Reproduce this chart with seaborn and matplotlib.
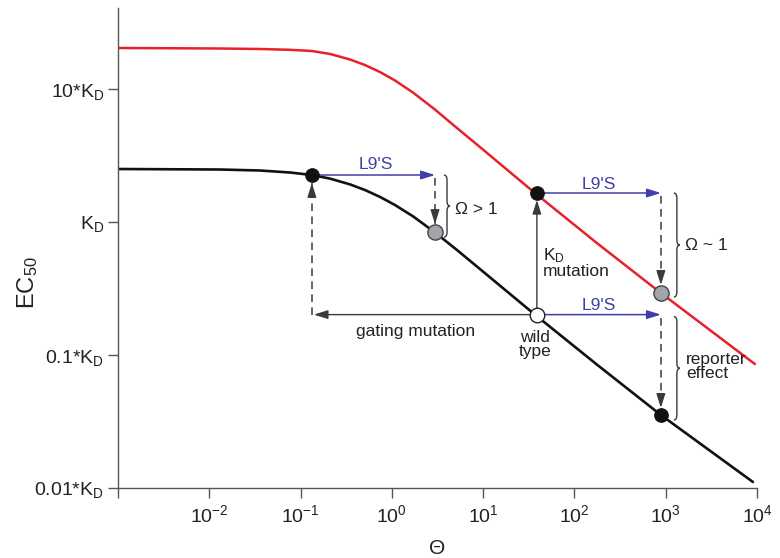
import matplotlib
matplotlib.use("Agg")
import numpy as np
import pandas as pd
import matplotlib.pyplot as plt
import seaborn as sns
from matplotlib.path import Path
from matplotlib.patches import PathPatch

# === DATA ===
theta_black = [0.001, 0.0131, 0.0359, 0.0766, 0.133, 0.210, 0.348, 0.507, 0.741,
               1.082, 1.703, 2.965, 5.164, 9.23, 36.9, 176, 885, 9020]
ec_black = [2.503, 2.481, 2.439, 2.356, 2.256, 2.120, 1.918, 1.740, 1.544,
            1.342, 1.104, 0.835, 0.616, 0.443, 0.2012, 0.0848, 0.0354, 0.0111]

theta_red = [0.001, 0.0131, 0.0359, 0.0766, 0.133, 0.210, 0.348, 0.507, 0.741,
             1.082, 1.703, 2.965, 5.164, 9.23, 36.9, 176, 885, 9480]
ec_red = [20.34, 20.16, 19.99, 19.71, 19.31, 18.34, 16.67, 15.15, 13.42,
          11.59, 9.41, 7.01, 5.09, 3.66, 1.652, 0.695, 0.2925, 0.0855]

# points: A (start), C (KD mutant), F (L9'S on WT) / B, E grey / wild type
dot_black_theta = [0.133, 38.8, 885]
dot_black_ec = [2.256, 1.652, 0.0354]
dot_gray_theta = [2.97, 885]
dot_gray_ec = [0.84, 0.2925]
wt_theta = [38.8]
wt_ec = [0.2012]

y_ticks = [0.01, 0.1, 1, 10]
y_ticklabels = [r"$0.01{*}K_D$", r"$0.1{*}K_D$", r"$K_D$", r"$10{*}K_D$"]
x_exponents = [-3, -2, -1, 0, 1, 2, 3, 4]

# === STYLE ===
sns.set_theme(style="ticks")
plt.rcParams["font.family"] = ["Liberation Sans", "DejaVu Sans"]
plt.rcParams["mathtext.fontset"] = "custom"
plt.rcParams["mathtext.rm"] = "Liberation Sans"
plt.rcParams["mathtext.it"] = "Liberation Sans"
plt.rcParams["mathtext.bf"] = "Liberation Sans:bold"

RED = "#e8202a"
BLUE = "#3f3fa6"
GREY = "#3a3a3a"

fig = plt.figure(figsize=(7.8, 5.58), dpi=100)
ax = fig.add_axes([118 / 780, 70 / 558, 639 / 780, 480 / 558])

ymax = 10 ** (480 / 133 - 2)
ax.set(xscale="log", yscale="log", xlim=(1e-3, 1e4), ylim=(0.01, ymax))

black_df = pd.DataFrame({"theta": theta_black, "ec": ec_black})
red_df = pd.DataFrame({"theta": theta_red, "ec": ec_red})
sns.lineplot(data=red_df, x="theta", y="ec", color=RED, lw=1.8, sort=False,
             estimator=None, ax=ax, zorder=2)
sns.lineplot(data=black_df, x="theta", y="ec", color="#111111", lw=1.9, sort=False,
             estimator=None, ax=ax, zorder=2)

# pixel helpers (log axes, fixed figure size)
PX_X = 91.3
PX_Y = 133.0


def sx(v, px):
    return v * 10 ** (px / PX_X)


def sy(v, px):
    return v * 10 ** (-px / PX_Y)  # positive px = downward


def arrow(x0, y0, x1, y1, color, lw=1.1):
    ax.annotate("", xy=(x1, y1), xytext=(x0, y0),
                arrowprops=dict(arrowstyle="-|>,head_length=0.7,head_width=0.22",
                                color=color, lw=lw, shrinkA=0, shrinkB=0,
                                mutation_scale=12), zorder=3)


def dashed_arrow(x, y0, y1):
    ax.plot([x, x], [y0, y1], color=GREY, lw=1.1, ls=(0, (5, 3.5)), zorder=3)
    direction = 1 if y1 > y0 else -1
    arrow(x, sy(y1, 7 * direction), x, y1, GREY)


def brace(x, y_top, y_bot, dx, w=6):
    px, py1 = ax.transData.transform((x, y_top))
    _, py0 = ax.transData.transform((x, y_bot))
    px += dx
    ym = (py0 + py1) / 2
    r = 5
    h = w / 2
    verts = [(px, py1), (px + h, py1), (px + h, py1 - r),
             (px + h, ym + r),
             (px + h, ym), (px + w, ym),
             (px + h, ym), (px + h, ym - r),
             (px + h, py0 + r),
             (px + h, py0), (px, py0)]
    codes = [Path.MOVETO, Path.CURVE3, Path.CURVE3, Path.LINETO,
             Path.CURVE3, Path.CURVE3, Path.CURVE3, Path.CURVE3,
             Path.LINETO, Path.CURVE3, Path.CURVE3]
    patch = PathPatch(Path(verts, codes), fill=False, color=GREY, lw=1.0,
                      transform=None, zorder=3)
    fig.add_artist(patch)
    return px + w, ym


ax.figure.canvas.draw()

A = (dot_black_theta[0], dot_black_ec[0])
B = (dot_gray_theta[0], dot_gray_ec[0])
C = (dot_black_theta[1], dot_black_ec[1])
WT = (wt_theta[0], wt_ec[0])
E = (dot_gray_theta[1], dot_gray_ec[1])
F = (dot_black_theta[2], dot_black_ec[2])

# L9'S arrows
arrow(sx(A[0], 6), A[1], B[0], A[1], BLUE)
arrow(sx(C[0], 6), C[1], E[0], C[1], BLUE)
arrow(sx(WT[0], 7), WT[1], E[0], WT[1], BLUE)
txt = dict(fontsize=12.5, color=BLUE, ha="center", va="center")
ax.text(np.sqrt(A[0] * B[0]) * 1.05, sy(A[1], -11), "L9'S", **txt)
ax.text(np.sqrt(C[0] * E[0]), sy(C[1], -9), "L9'S", **txt)
ax.text(np.sqrt(WT[0] * E[0]), sy(WT[1], -9), "L9'S", **txt)

# dashed vertical arrows
dashed_arrow(B[0], sy(A[1], 3), sy(B[1], -8))
dashed_arrow(A[0], sy(WT[1], 0), sy(A[1], 8))
dashed_arrow(E[0], sy(C[1], 3), sy(E[1], -8))
dashed_arrow(F[0], sy(WT[1], 3), sy(F[1], -7))

# gating mutation & KD mutation arrows
arrow(sx(WT[0], -7), WT[1], sx(A[0], 2), WT[1], GREY, lw=1.0)
arrow(WT[0], sy(WT[1], -7), WT[0], sy(C[1], 7), GREY, lw=1.0)

lbl = dict(fontsize=12.5, color="#222222")
ax.text(sx(A[0], 104), sy(WT[1], 17), "gating mutation", ha="center", va="center", **lbl)
ax.text(WT[0] * 0.96, sy(WT[1], 30), "wild\ntype", ha="center", va="center",
        linespacing=0.95, **lbl)
ax.text(sx(WT[0], 6), sy(WT[1], -52), r"$K_D$" + "\nmutation", ha="left", va="center",
        linespacing=0.95, **lbl)

# braces
bx, by = brace(B[0], A[1], sy(B[1], 5), 9)
fig.text(bx + 5, by - 3, "\u03a9 > 1", ha="left", va="center", transform=None, **lbl)
bx, by = brace(E[0], C[1], sy(E[1], 4), 13)
fig.text(bx + 5, by, "\u03a9 ~ 1", ha="left", va="center", transform=None, **lbl)
bx, by = brace(E[0], sy(WT[1], 2), sy(F[1], 5), 13)
fig.text(bx + 6, by + 2, "reporter\neffect", ha="left", va="center",
         linespacing=0.95, transform=None, **lbl)

# markers
sns.scatterplot(x=dot_black_theta, y=dot_black_ec, s=95, color="#111111",
                edgecolor="#111111", linewidth=0.8, ax=ax, zorder=5)
sns.scatterplot(x=dot_gray_theta, y=dot_gray_ec, s=120, color="#a2a6aa",
                edgecolor="#444444", linewidth=1.0, ax=ax, zorder=5)
sns.scatterplot(x=wt_theta, y=wt_ec, s=110, color="white",
                edgecolor="#222222", linewidth=1.0, ax=ax, zorder=5)

# axes
sns.despine(ax=ax)
for side in ["left", "bottom"]:
    ax.spines[side].set_color("#555555")
    ax.spines[side].set_linewidth(1.0)
ax.minorticks_off()
ax.set_yticks(y_ticks)
ax.set_yticklabels(y_ticklabels)
ax.set_xticks([10.0 ** e for e in x_exponents])
ax.set_xticklabels(["" if e == -3 else rf"$10^{{{e}}}$" for e in x_exponents])
ax.tick_params(axis="both", length=7, width=1.0, color="#555555",
               labelsize=14, labelcolor="#222222", pad=3)
ax.tick_params(axis="x", pad=5)
ax.set_ylabel(r"EC$_{50}$", fontsize=17, color="#222222")
ax.yaxis.set_label_coords(-0.122, 0.427)
ax.set_xlabel("\u0398", fontsize=15, color="#222222", labelpad=9)
ax.set_facecolor("white")

fig.savefig("out.png", dpi=100)
